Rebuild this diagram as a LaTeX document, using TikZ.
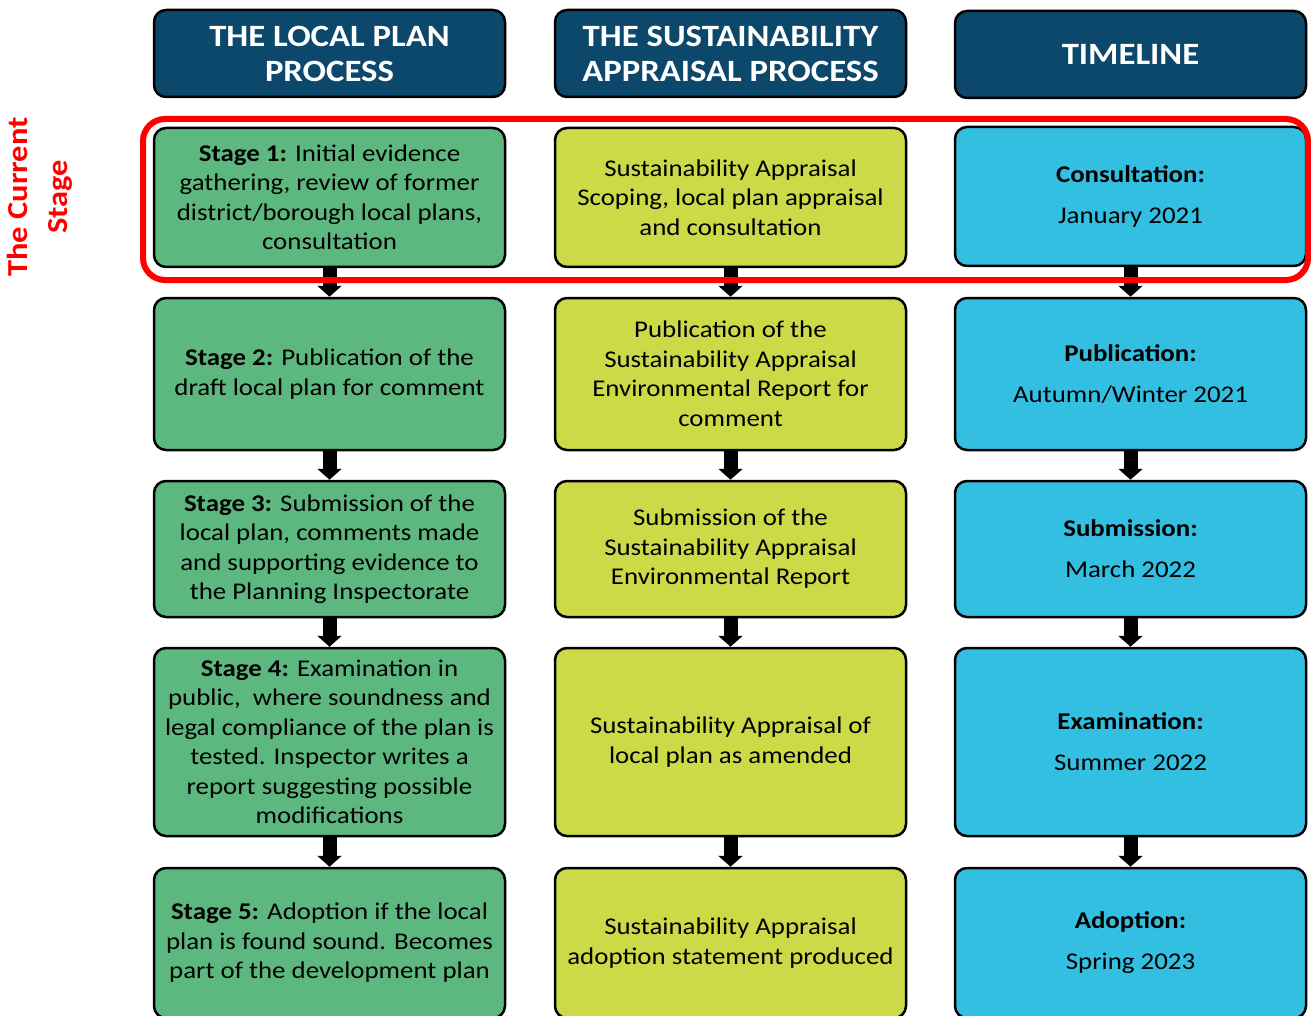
\documentclass[tikz,border=0pt]{standalone}
\usepackage{fontspec}
\setmainfont{Carlito}[FakeStretch=1.12]
\usetikzlibrary{arrows.meta}
\definecolor{hdr}{RGB}{11,72,107}
\definecolor{grn}{RGB}{92,184,126}
\definecolor{ylw}{RGB}{204,218,71}
\definecolor{cyn}{RGB}{51,191,225}
\begin{document}
\begin{tikzpicture}[x=1pt,y=-1pt,
  box/.style={draw=black, line width=2.5pt, rounded corners=12pt, minimum width=351pt, align=center, inner sep=0pt},
  hdrbox/.style={box, fill=hdr, text=white, font=\bfseries\fontsize{31}{35}\selectfont},
  gbox/.style={box, fill=grn, font=\fontsize{24}{29.5}\selectfont},
  ybox/.style={box, fill=ylw, font=\fontsize{24}{29.5}\selectfont},
  cbox/.style={box, fill=cyn, font=\fontsize{24}{41}\selectfont},
  flow/.style={line width=14pt, -{Triangle[width=24pt,length=11pt]}}
]
\useasboundingbox (0,0) rectangle (1311,1016);
\clip (0,0) rectangle (1311,1016);
% headers
\node[hdrbox, minimum height=87pt] (h1) at (329.5,53.5) {THE LOCAL PLAN\\PROCESS};
\node[hdrbox, minimum height=87pt] (h2) at (730.5,53.5) {THE SUSTAINABILITY\\APPRAISAL PROCESS};
\node[hdrbox, minimum height=87pt] (h3) at (1130.5,54.5) {TIMELINE};
% row 1
\node[gbox, minimum height=139pt] (g1) at (329.5,197.5) {\textbf{Stage 1:} Initial evidence\\gathering, review of former\\district/borough local plans,\\consultation};
\node[ybox, minimum height=139pt] (y1) at (730.5,197.5) {Sustainability Appraisal\\Scoping, local plan appraisal\\and consultation};
\node[cbox, minimum height=139pt] (c1) at (1130.5,196.5) {\textbf{Consultation:}\\January 2021};
% row 2
\node[gbox, minimum height=152pt] (g2) at (329.5,374) {\textbf{Stage 2:} Publication of the\\draft local plan for comment};
\node[ybox, minimum height=152pt] (y2) at (730.5,374) {Publication of the\\Sustainability Appraisal\\Environmental Report for\\comment};
\node[cbox, minimum height=152pt] (c2) at (1130.5,374) {\textbf{Publication:}\\Autumn/Winter 2021};
% row 3
\node[gbox, minimum height=136pt] (g3) at (329.5,549) {\textbf{Stage 3:} Submission of the\\local plan, comments made\\and supporting evidence to\\the Planning Inspectorate};
\node[ybox, minimum height=136pt] (y3) at (730.5,549) {Submission of the\\Sustainability Appraisal\\Environmental Report};
\node[cbox, minimum height=136pt] (c3) at (1130.5,549) {\textbf{Submission:}\\March 2022};
% row 4
\node[gbox, minimum height=188pt] (g4) at (329.5,742) {\textbf{Stage 4:} Examination in\\public,\ \ where soundness and\\legal compliance of the plan is\\tested. Inspector writes a\\report suggesting possible\\modifications};
\node[ybox, minimum height=188pt] (y4) at (730.5,742) {Sustainability Appraisal of\\local plan as amended};
\node[cbox, minimum height=188pt] (c4) at (1130.5,742) {\textbf{Examination:}\\Summer 2022};
% row 5
\node[gbox, minimum height=150pt] (g5) at (329.5,943) {\textbf{Stage 5:} Adoption if the local\\plan is found sound. Becomes\\part of the development plan};
\node[ybox, minimum height=150pt] (y5) at (730.5,943) {Sustainability Appraisal\\adoption statement produced};
\node[cbox, minimum height=150pt] (c5) at (1130.5,943) {\textbf{Adoption:}\\Spring 2023};
% arrows
\foreach \c in {g,y,c}{
  \draw[flow] (\c1.south) -- (\c2.north);
  \draw[flow] (\c2.south) -- (\c3.north);
  \draw[flow] (\c3.south) -- (\c4.north);
  \draw[flow] (\c4.south) -- (\c5.north);
}
% current stage highlight
\node[draw=red, line width=6pt, rounded corners=22pt, minimum width=1165pt, minimum height=161pt, inner sep=0pt] (cur) at (725.5,199.5) {};
\node[rotate=90, text=red, font=\bfseries\fontsize{29}{40}\selectfont, align=center] (lbl) at (40,197) {The Current\\Stage};
\end{tikzpicture}
\end{document}
